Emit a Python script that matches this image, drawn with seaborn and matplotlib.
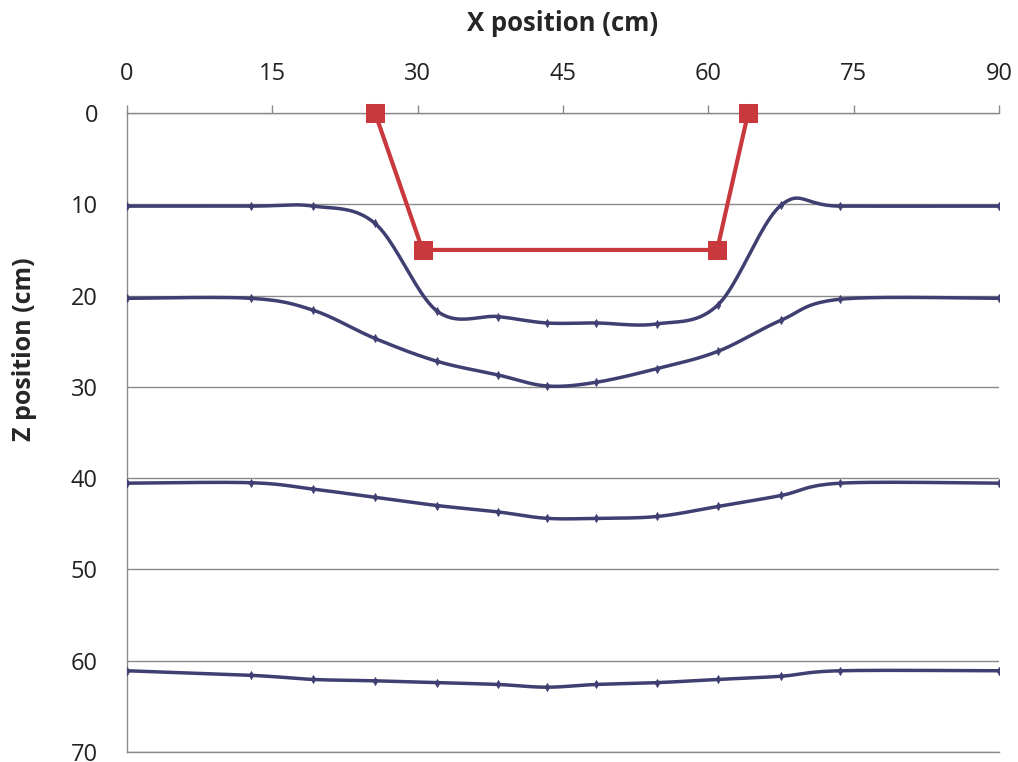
import matplotlib
matplotlib.use("Agg")

import matplotlib.pyplot as plt
import numpy as np
import pandas as pd
import seaborn as sns

# x positions (cm) of the probe points, shared by every profile
x_pos = [0, 12.8, 19.2, 25.6, 32.0, 38.3, 43.3, 48.4, 54.7, 61.0, 67.5, 73.6, 90]

# measured bed profiles, z depth (cm)
z_layer1 = [10.2, 10.2, 10.2, 12.1, 21.7, 22.3, 23.0, 23.0, 23.1, 21.0, 10.1, 10.2, 10.2]
z_layer2 = [20.3, 20.3, 21.6, 24.7, 27.2, 28.7, 29.9, 29.5, 28.0, 26.1, 22.7, 20.4, 20.3]
z_layer3 = [40.55, 40.5, 41.2, 42.1, 43.0, 43.7, 44.4, 44.4, 44.2, 43.1, 41.9, 40.55, 40.55]
z_layer4 = [61.1, 61.6, 62.05, 62.2, 62.4, 62.6, 62.9, 62.6, 62.4, 62.05, 61.7, 61.1, 61.1]

# trench outline
trench_x = [25.6, 30.5, 60.9, 64.1]
trench_z = [0, 15.0, 15.0, 0]

x_ticks = [0, 15, 30, 45, 60, 75, 90]
z_ticks = [0, 10, 20, 30, 40, 50, 60, 70]

BLUE = "#3f3f72"
RED = "#c8383c"
GRID = "#8a8a8a"


def smooth(xs, ys, n=24):
    # Excel-style smoothed line: Catmull-Rom bezier segments
    xs = np.asarray(xs, float)
    ys = np.asarray(ys, float)
    px = np.concatenate([[xs[0]], xs, [xs[-1]]])
    py = np.concatenate([[ys[0]], ys, [ys[-1]]])
    out_x, out_y = [], []
    t = np.linspace(0, 1, n)
    for i in range(1, len(px) - 2):
        p0 = np.array([px[i], py[i]])
        p3 = np.array([px[i + 1], py[i + 1]])
        p1 = p0 + (np.array([px[i + 1], py[i + 1]]) - np.array([px[i - 1], py[i - 1]])) / 6
        p2 = p3 - (np.array([px[i + 2], py[i + 2]]) - np.array([px[i], py[i]])) / 6
        b = ((1 - t) ** 3)[:, None] * p0 + (3 * (1 - t) ** 2 * t)[:, None] * p1 \
            + (3 * (1 - t) * t ** 2)[:, None] * p2 + (t ** 3)[:, None] * p3
        out_x.extend(b[:, 0])
        out_y.extend(b[:, 1])
    return out_x, out_y


sns.set_style("white")
plt.rcParams["font.family"] = ["Open Sans", "DejaVu Sans"]

fig = plt.figure(figsize=(10.18, 7.62), dpi=100)
ax = fig.add_axes([0.1248, 0.0131, 0.8566, 0.8386])

for z in [z_layer1, z_layer2, z_layer3, z_layer4]:
    sx, sy = smooth(x_pos, z)
    sns.lineplot(x=sx, y=sy, sort=False, estimator=None, color=BLUE, linewidth=2.5, ax=ax)
    sns.scatterplot(x=x_pos, y=z, marker="d", s=18, color=BLUE, edgecolor=BLUE, ax=ax, zorder=3)

trench = pd.DataFrame({"x": trench_x, "z": trench_z})
sns.lineplot(data=trench, x="x", y="z", sort=False, estimator=None, color=RED,
             linewidth=3.0, marker="s", markersize=13, markeredgecolor=RED, ax=ax,
             zorder=4, clip_on=False)

ax.set_xlim(0, 90)
ax.set_ylim(70, 0)
ax.set_xticks(x_ticks)
ax.set_yticks(z_ticks)
ax.xaxis.tick_top()
ax.xaxis.set_label_position("top")
ax.tick_params(axis="x", direction="out", length=6, width=1, color=GRID, pad=13.5,
               labelsize=17, labelcolor="#222222")
ax.tick_params(axis="y", direction="out", length=9, width=1, color=GRID, pad=12,
               labelsize=17, labelcolor="#222222")
ax.yaxis.grid(True, color=GRID, linewidth=1)
ax.set_axisbelow(True)
ax.spines["right"].set_visible(False)
for side in ["left", "top", "bottom"]:
    ax.spines[side].set_color(GRID)
    ax.spines[side].set_linewidth(1)

ax.set_xlabel("X position (cm)", fontsize=18.5, fontweight="bold", labelpad=22)
ax.set_ylabel("Z position (cm)", fontsize=18, fontweight="bold")
ax.yaxis.set_label_coords(-0.103, 0.63)

fig.savefig("out.png", dpi=100)
